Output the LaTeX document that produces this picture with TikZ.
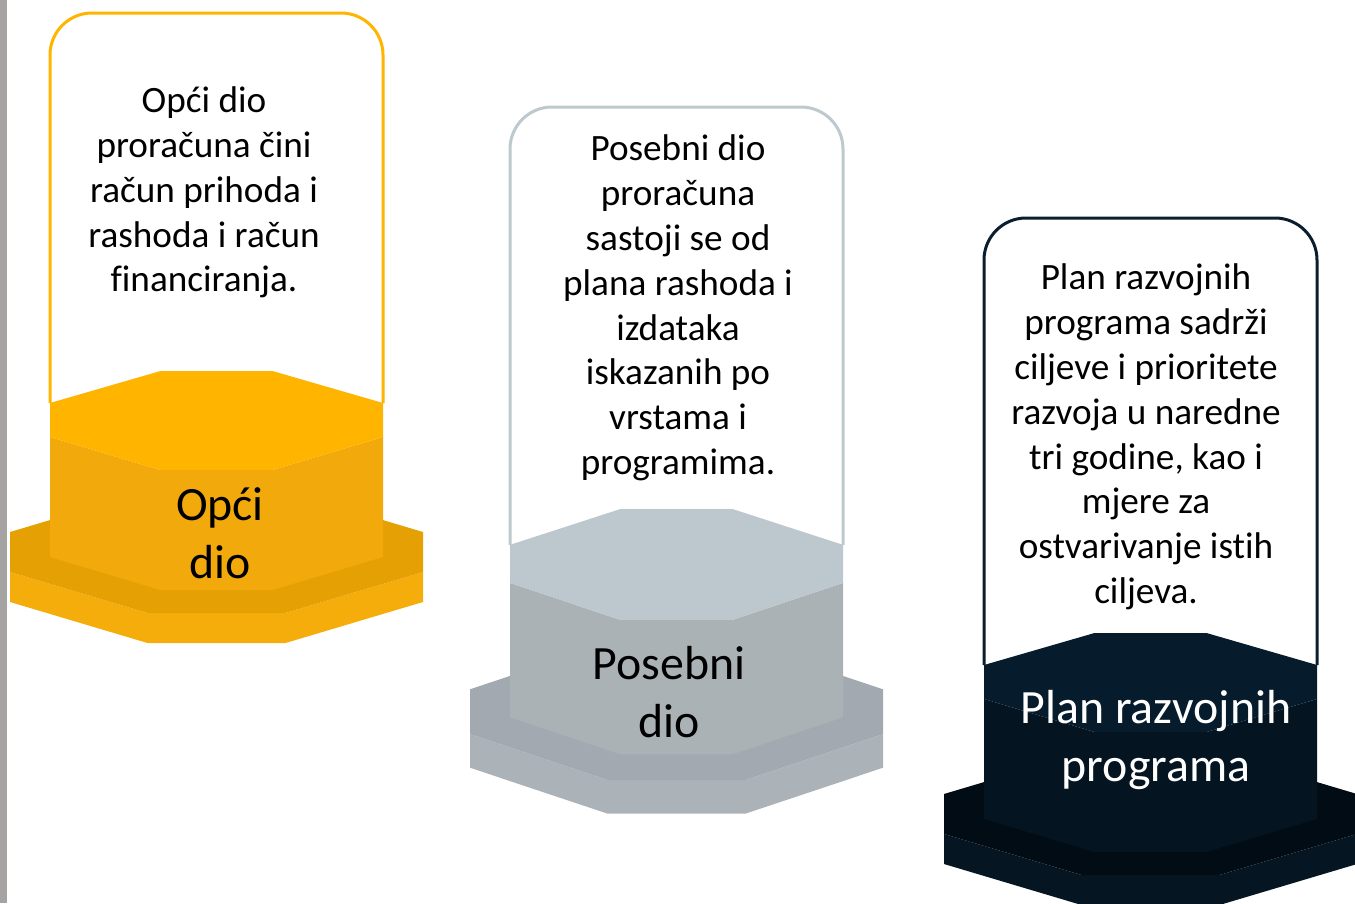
\documentclass[tikz,border=0pt]{standalone}
\usepackage{fontspec}
\setmainfont{Carlito}[Ligatures=NoCommon]
\usepackage{xcolor}

\definecolor{sidebar}{RGB}{166,163,163}
\definecolor{opciLine}{RGB}{255,180,0}
\definecolor{opciFace}{RGB}{255,180,0}
\definecolor{opciSide}{RGB}{242,169,11}
\definecolor{opciBaseTop}{RGB}{229,161,3}
\definecolor{opciBaseSide}{RGB}{244,173,11}
\definecolor{posebniLine}{RGB}{190,200,207}
\definecolor{posebniFace}{RGB}{189,199,206}
\definecolor{posebniSide}{RGB}{171,178,182}
\definecolor{posebniBaseTop}{RGB}{162,169,176}
\definecolor{posebniBaseSide}{RGB}{172,179,184}
\definecolor{planLine}{RGB}{10,30,46}
\definecolor{planFace}{RGB}{6,28,44}
\definecolor{planSide}{RGB}{4,20,32}
\definecolor{planBaseTop}{RGB}{2,12,20}
\definecolor{planBaseSide}{RGB}{5,22,34}

\begin{document}
\begin{tikzpicture}[x=1pt, y=-1pt,
        boxtext/.style={align=center, inner sep=0pt, font=\fontsize{37.2}{44.8}\selectfont},
        labeltext/.style={align=center, inner sep=0pt, font=\fontsize{47.8}{57.5}\selectfont}]
        \useasboundingbox (0,0) rectangle (1355,903);
        \fill[sidebar] (0,0) rectangle (7,903);
        % columns: centre / box top / hexagon top / y-stretch / colours
        \foreach \cx/\bt/\ft/\sy/\cl/\cf/\cs/\cbt/\cbs in {
            216.5/13/371/1/opciLine/opciFace/opciSide/opciBaseTop/opciBaseSide,
            676.5/107/509/1.12/posebniLine/posebniFace/posebniSide/posebniBaseTop/posebniBaseSide,
            1150.5/218/633/1/planLine/planFace/planSide/planBaseTop/planBaseSide} {
            \draw[line width=3pt, draw=\cl, fill=white, rounded corners=42pt]
                (\cx-166.5,\ft+32*\sy) |- (\cx,\bt) -| (\cx+166.5,\ft+32*\sy);
            \begin{scope}[shift={(\cx,\ft)}, yscale=\sy]
                \fill[\cbs] (-206.5,201) -- (-69,242) -- (69,242) -- (206.5,201)
                    -- (206.5,231) -- (69,272) -- (-69,272) -- (-206.5,231) -- cycle;
                \fill[\cbt] (-206.5,161) -- (-69,120) -- (69,120) -- (206.5,161)
                    -- (206.5,201) -- (69,242) -- (-69,242) -- (-206.5,201) -- cycle;
                \fill[\cs] (-166.5,66) -- (-56,99) -- (56,99) -- (166.5,66)
                    -- (166.5,186) -- (56,219) -- (-56,219) -- (-166.5,186) -- cycle;
                \fill[\cf] (-166.5,32) -- (-56,0) -- (56,0) -- (166.5,32)
                    -- (166.5,66) -- (56,99) -- (-56,99) -- (-166.5,66) -- cycle;
            \end{scope}
        }
        % Texts
        \node[boxtext] (opcitext) at (204,192.5) {Opći dio\\proračuna čini\\račun prihoda i\\rashoda i račun\\financiranja.};
        \node[boxtext] (posebnitext) at (678,308) {Posebni dio\\proračuna\\sastoji se od\\plana rashoda i\\izdataka\\iskazanih po\\vrstama i\\programima.};
        \node[boxtext] (plantext) at (1146,437) {Plan razvojnih\\programa sadrži\\ciljeve i prioritete\\razvoja u naredne\\tri godine, kao i\\mjere za\\ostvarivanje istih\\ciljeva.};
        % Labels
        \node[labeltext] (opcilabel) at (220,533) {Opći\\dio};
        \node[labeltext] (posebnilabel) at (669,692) {Posebni\\dio};
        \node[labeltext, text=white] (planlabel) at (1156,740) {Plan razvojnih\\programa};
    \end{tikzpicture}
\end{document}
